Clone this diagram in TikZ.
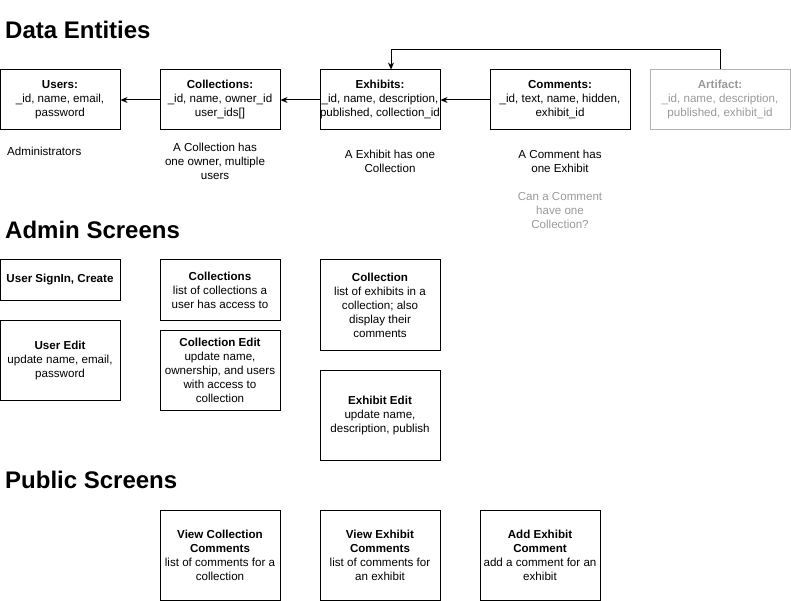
\documentclass[tikz,border=0pt]{standalone}
\usepackage{fontspec}
\setmainfont{Liberation Sans}
\usetikzlibrary{arrows.meta}
\definecolor{fadetext}{HTML}{999999}
\definecolor{fadeline}{HTML}{B3B3B3}
\begin{document}
\begin{tikzpicture}[x=1pt,y=-1pt,
  every node/.style={font=\fontsize{11.6}{14}\selectfont, inner sep=0pt, align=center},
  box/.style={draw, line width=1pt, minimum width=120pt},
  fadebox/.style={draw=fadeline, text=fadetext, line width=1pt, minimum width=140pt},
  heading/.style={anchor=west, font=\fontsize{24}{28}\selectfont\bfseries},
  arr/.style={line width=1pt, -{Stealth[length=7pt,width=6pt]}}
]
\useasboundingbox (0,0) rectangle (791,601);

% headings
\node[heading] (h1) at (5,30) {Data Entities};
\node[heading] (h2) at (5,230) {Admin Screens};
\node[heading] (h3) at (5,480) {Public Screens};

% data entities
\node[box, minimum height=60pt] (users) at (60,100) {\textbf{Users:}\\\_id, name, email,\\password};
\node[box, minimum height=60pt] (colls) at (220,100) {\textbf{Collections:}\\\_id, name, owner\_id\\user\_ids[]};
\node[box, minimum height=60pt] (exh) at (380,100) {\textbf{Exhibits:}\\\_id, name, description,\\published, collection\_id};
\node[box, minimum width=140pt, minimum height=60pt] (comm) at (560,100) {\textbf{Comments:}\\\_id, text, name, hidden,\\exhibit\_id};
\node[fadebox, minimum height=60pt] (art) at (720,100) {\textbf{Artifact:}\\\_id, name, description,\\published, exhibit\_id};

\draw[arr] (colls.west) -- (users.east);
\draw[arr] (exh.west) -- (colls.east);
\draw[arr] (comm.west) -- (exh.east);
\draw[arr] (art.north) -- ++(0,-20) -| ([xshift=11pt]exh.north);

\node[anchor=west] (n1) at (7,151) {Administrators};
\node (n2) at (215,161) {A Collection has\\one owner, multiple\\users};
\node (n3) at (390,161) {A Exhibit has one\\Collection};
\node (n4) at (560,161) {A Comment has\\one Exhibit};
\node[text=fadetext] (n5) at (560,211) {Can a Comment\\have one\\Collection?};

% admin screens
\node[box, minimum height=40pt] (signin) at (60,280) {\textbf{User SignIn, Create}};
\node[box, minimum height=80pt] (uedit) at (60,360) {\textbf{User Edit}\\update name, email,\\password};
\node[box, minimum height=60pt] (clist) at (220,290) {\textbf{Collections}\\list of collections a\\user has access to};
\node[box, minimum height=80pt] (cedit) at (220,370) {\textbf{Collection Edit}\\update name,\\ownership, and users\\with access to\\collection};
\node[box, minimum height=90pt] (coll) at (380,305) {\textbf{Collection}\\list of exhibits in a\\collection; also\\display their\\comments};
\node[box, minimum height=90pt] (eedit) at (380,415) {\textbf{Exhibit Edit}\\update name,\\description, publish};

% public screens
\node[box, minimum height=90pt] (vcc) at (220,555) {\textbf{View Collection}\\\textbf{Comments}\\list of comments for a\\collection};
\node[box, minimum height=90pt] (vec) at (380,555) {\textbf{View Exhibit}\\\textbf{Comments}\\list of comments for\\an exhibit};
\node[box, minimum height=90pt] (aec) at (540,555) {\textbf{Add Exhibit}\\\textbf{Comment}\\add a comment for an\\exhibit};
\end{tikzpicture}
\end{document}
